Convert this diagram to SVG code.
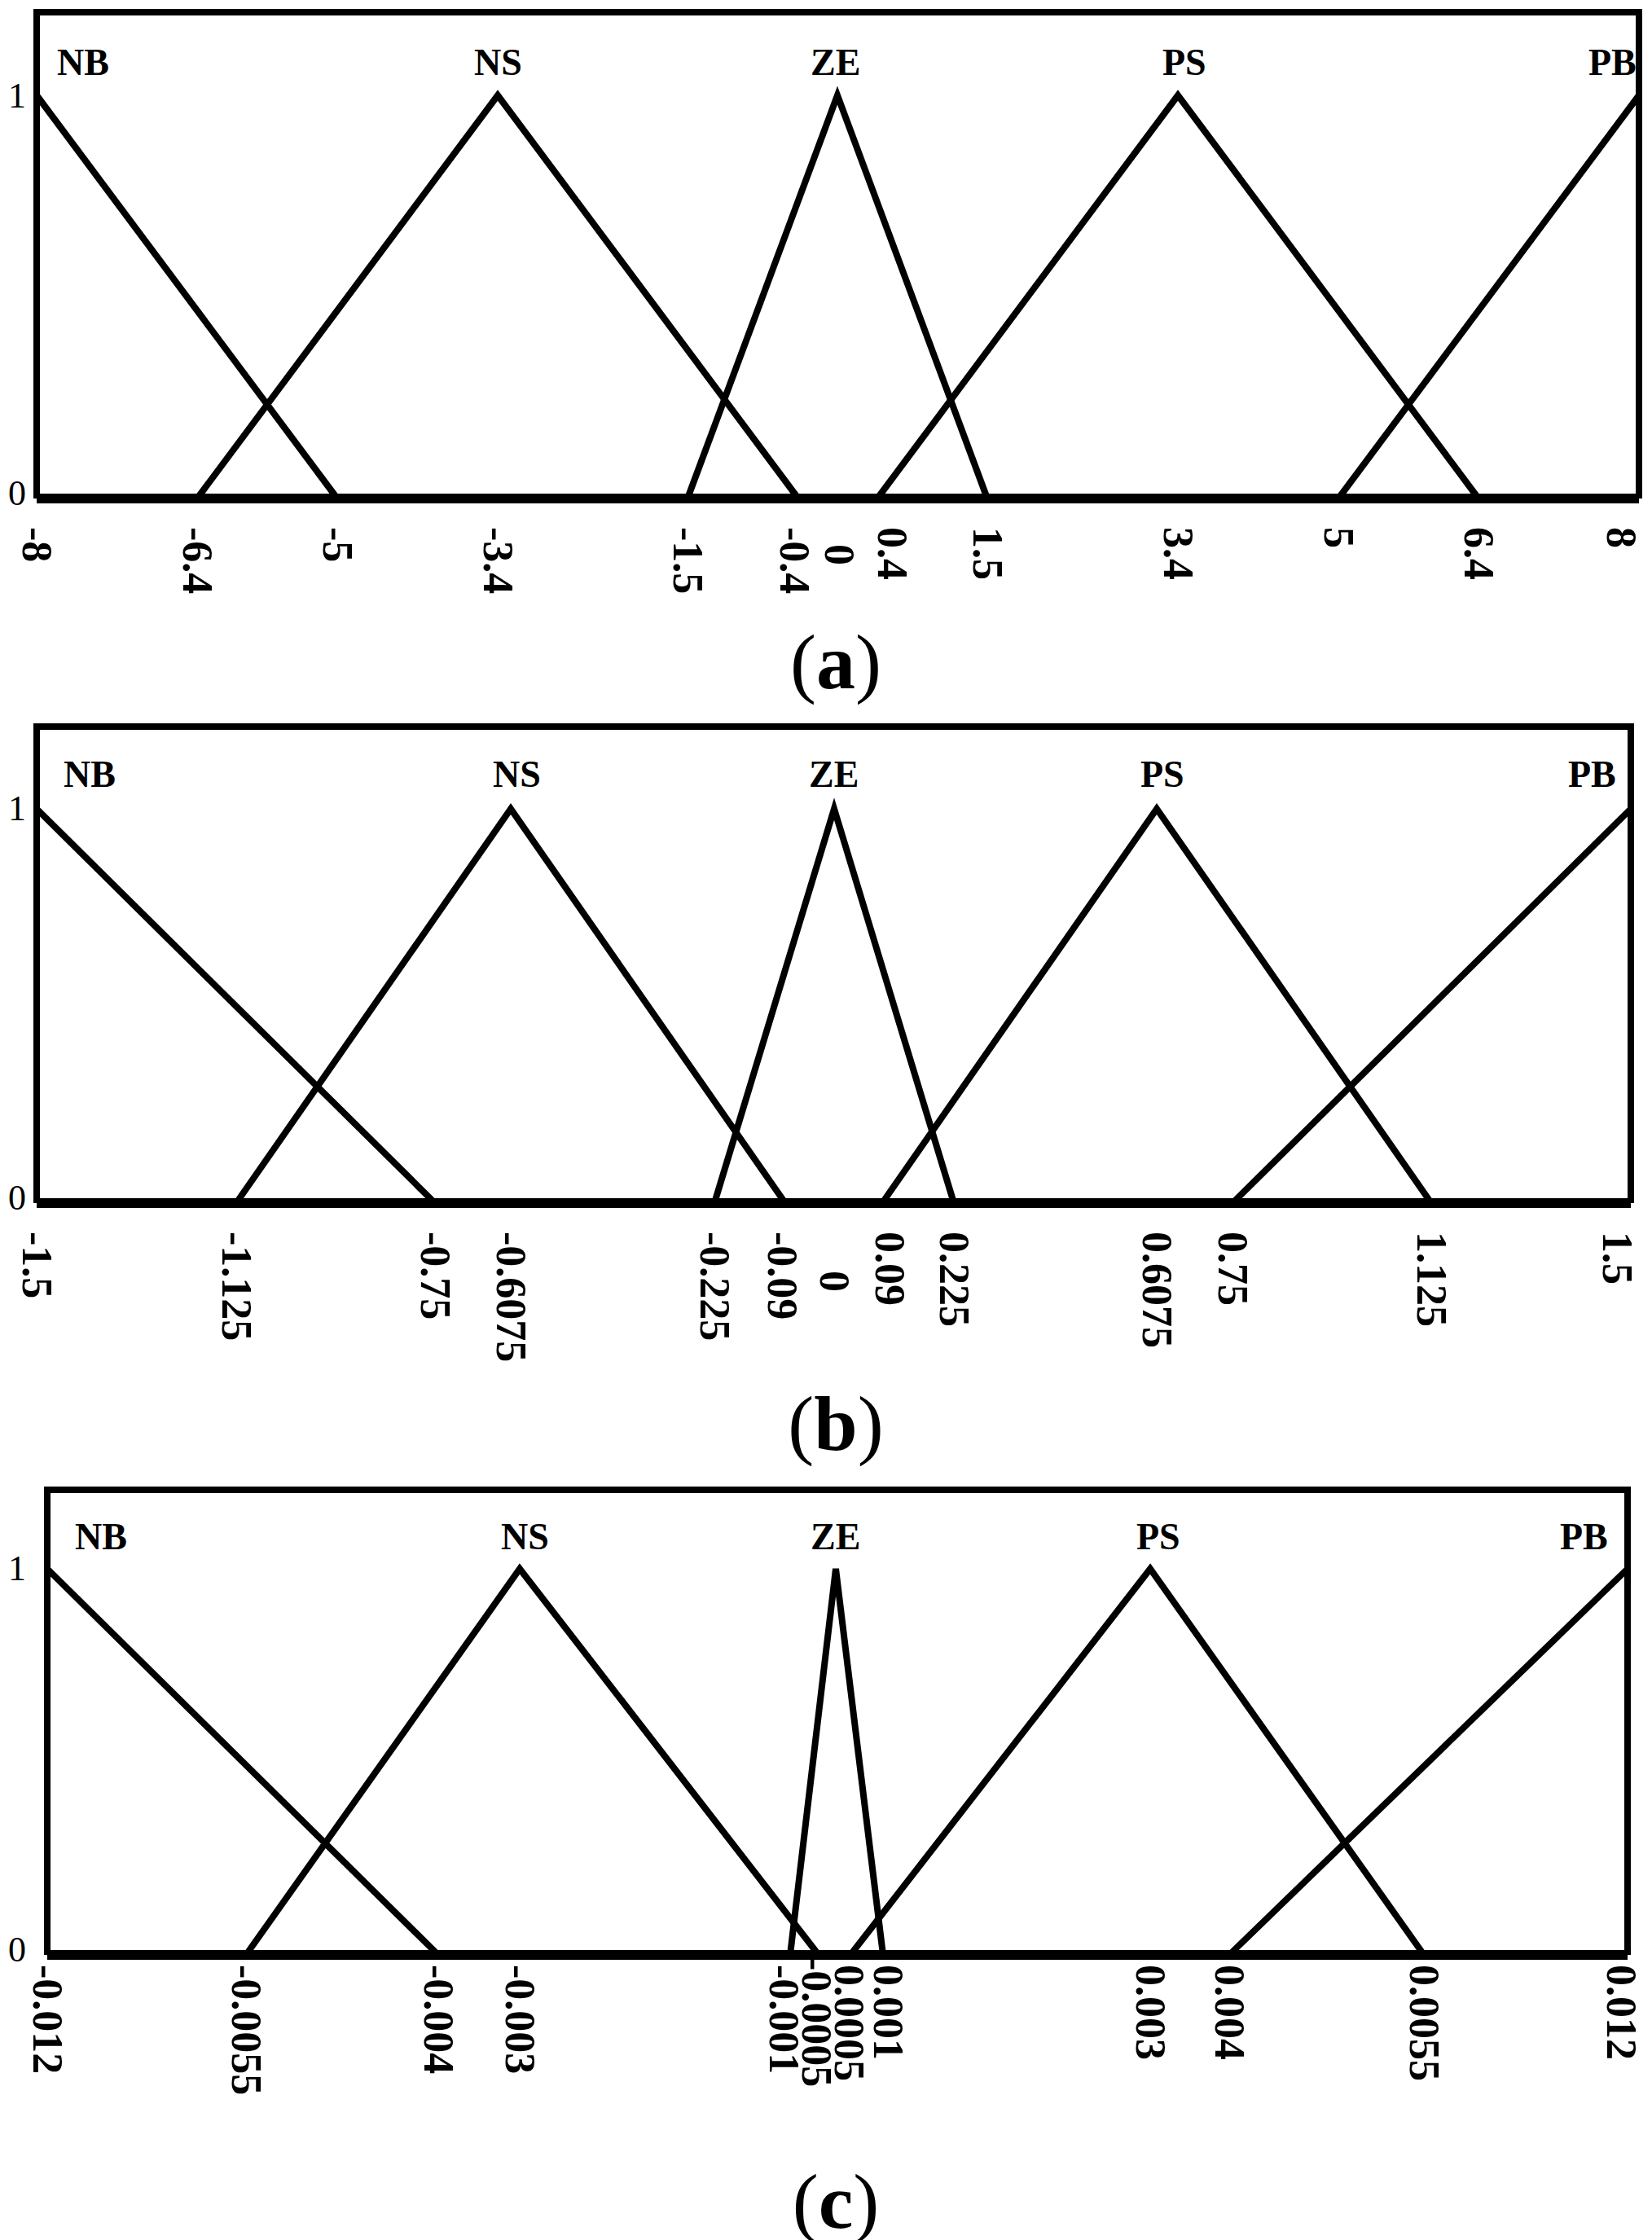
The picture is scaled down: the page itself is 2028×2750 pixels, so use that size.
<svg xmlns="http://www.w3.org/2000/svg" width="2028" height="2750" viewBox="0 0 2028 2750">
<style>
.f{fill:none;stroke:#000;stroke-width:8;stroke-linejoin:miter}
.ax{stroke:#000;stroke-width:12}
.mf{fill:none;stroke:#000;stroke-width:8;stroke-linejoin:miter}
.t{font-family:"Liberation Serif",serif;font-weight:bold;font-size:46px}
.y{font-family:"Liberation Serif",serif;font-size:44px}
.tk{font-family:"Liberation Serif",serif;font-weight:bold;font-size:52px;dominant-baseline:central}
.cap{font-family:"Liberation Serif",serif;font-size:96px;text-anchor:middle}
</style>
<rect width="2028" height="2750" fill="#fff"/>
<g id="panel-a">
<polyline class="f" points="45,612 45,15 2012,15 2012,612"/>
<line class="ax" x1="45" y1="612" x2="2012" y2="612"/>
<text class="y" x="10" y="132">1</text><text class="y" x="10" y="620">0</text>
<polyline class="mf" points="45,117 414,612"/>
<polyline class="mf" points="242,612 611,117 980,612"/>
<polyline class="mf" points="844,612 1028,117 1212,612"/>
<polyline class="mf" points="1077,612 1446,117 1815,612"/>
<polyline class="mf" points="1643,612 2012,117"/>
<text class="t" x="70" y="92">NB</text><text class="t" x="582" y="92">NS</text><text class="t" x="995" y="92">ZE</text><text class="t" x="1427" y="92">PS</text><text class="t" x="1950" y="92">PB</text>
<g class="tk">
<text transform="translate(45,647) rotate(90)">-8</text>
<text transform="translate(242,647) rotate(90)">-6.4</text>
<text transform="translate(414,647) rotate(90)">-5</text>
<text transform="translate(611,647) rotate(90)">-3.4</text>
<text transform="translate(844,647) rotate(90)">-1.5</text>
<text transform="translate(975,647) rotate(90)">-0.4</text>
<text transform="translate(1030,668) rotate(90)">0</text>
<text transform="translate(1095,647) rotate(90)">0.4</text>
<text transform="translate(1212,647) rotate(90)">1.5</text>
<text transform="translate(1446,647) rotate(90)">3.4</text>
<text transform="translate(1643,647) rotate(90)">5</text>
<text transform="translate(1815,647) rotate(90)">6.4</text>
<text transform="translate(1990,647) rotate(90)">8</text>
</g>
<text class="cap" x="1026" y="845">(<tspan font-weight="bold">a</tspan>)</text>
</g>
<g id="panel-b">
<polyline class="f" points="45,1477 45,892 2002,892 2002,1477"/>
<line class="ax" x1="45" y1="1477" x2="2002" y2="1477"/>
<text class="y" x="10" y="1007">1</text><text class="y" x="10" y="1485">0</text>
<polyline class="mf" points="45,993 534,1477"/>
<polyline class="mf" points="290,1477 627,993 964,1477"/>
<polyline class="mf" points="877,1477 1024,993 1171,1477"/>
<polyline class="mf" points="1083,1477 1420,993 1757,1477"/>
<polyline class="mf" points="1513,1477 2002,993"/>
<text class="t" x="78" y="966">NB</text><text class="t" x="605" y="966">NS</text><text class="t" x="993" y="966">ZE</text><text class="t" x="1400" y="966">PS</text><text class="t" x="1925" y="966">PB</text>
<g class="tk">
<text transform="translate(45,1512) rotate(90)">-1.5</text>
<text transform="translate(290,1512) rotate(90)">-1.125</text>
<text transform="translate(534,1512) rotate(90)">-0.75</text>
<text transform="translate(627,1512) rotate(90)">-0.6075</text>
<text transform="translate(877,1512) rotate(90)">-0.225</text>
<text transform="translate(960,1512) rotate(90)">-0.09</text>
<text transform="translate(1024,1560) rotate(90)">0</text>
<text transform="translate(1092,1512) rotate(90)">0.09</text>
<text transform="translate(1171,1512) rotate(90)">0.225</text>
<text transform="translate(1420,1512) rotate(90)">0.6075</text>
<text transform="translate(1513,1512) rotate(90)">0.75</text>
<text transform="translate(1757,1512) rotate(90)">1.125</text>
<text transform="translate(1985,1512) rotate(90)">1.5</text>
</g>
<text class="cap" x="1026" y="1780">(<tspan font-weight="bold">b</tspan>)</text>
</g>
<g id="panel-c">
<polyline class="f" points="58,2400 58,1829 1998,1829 1998,2400"/>
<line class="ax" x1="58" y1="2400" x2="1998" y2="2400"/>
<text class="y" x="10" y="1940">1</text><text class="y" x="10" y="2408">0</text>
<polyline class="mf" points="58,1926 538,2400"/>
<polyline class="mf" points="302,2400 638,1926 1005,2400"/>
<polyline class="mf" points="970,2400 1026,1926 1084,2400"/>
<polyline class="mf" points="1044,2400 1412,1926 1748,2400"/>
<polyline class="mf" points="1509,2400 1998,1926"/>
<text class="t" x="92" y="1902">NB</text><text class="t" x="615" y="1902">NS</text><text class="t" x="995" y="1902">ZE</text><text class="t" x="1395" y="1902">PS</text><text class="t" x="1915" y="1902">PB</text>
<g class="tk">
<text transform="translate(58,2412) rotate(90)">-0.012</text>
<text transform="translate(302,2412) rotate(90)">-0.0055</text>
<text transform="translate(538,2412) rotate(90)">-0.004</text>
<text transform="translate(638,2412) rotate(90)">-0.003</text>
<text transform="translate(962,2412) rotate(90)">-0.001</text>
<text transform="translate(1002,2402) rotate(90)">-0.0005</text>
<text transform="translate(1042,2412) rotate(90)">0.0005</text>
<text transform="translate(1090,2412) rotate(90)">0.001</text>
<text transform="translate(1412,2412) rotate(90)">0.003</text>
<text transform="translate(1509,2412) rotate(90)">0.004</text>
<text transform="translate(1748,2412) rotate(90)">0.0055</text>
<text transform="translate(1990,2412) rotate(90)">0.012</text>
</g>
<text class="cap" x="1026" y="2735">(<tspan font-weight="bold">c</tspan>)</text>
</g>
</svg>
